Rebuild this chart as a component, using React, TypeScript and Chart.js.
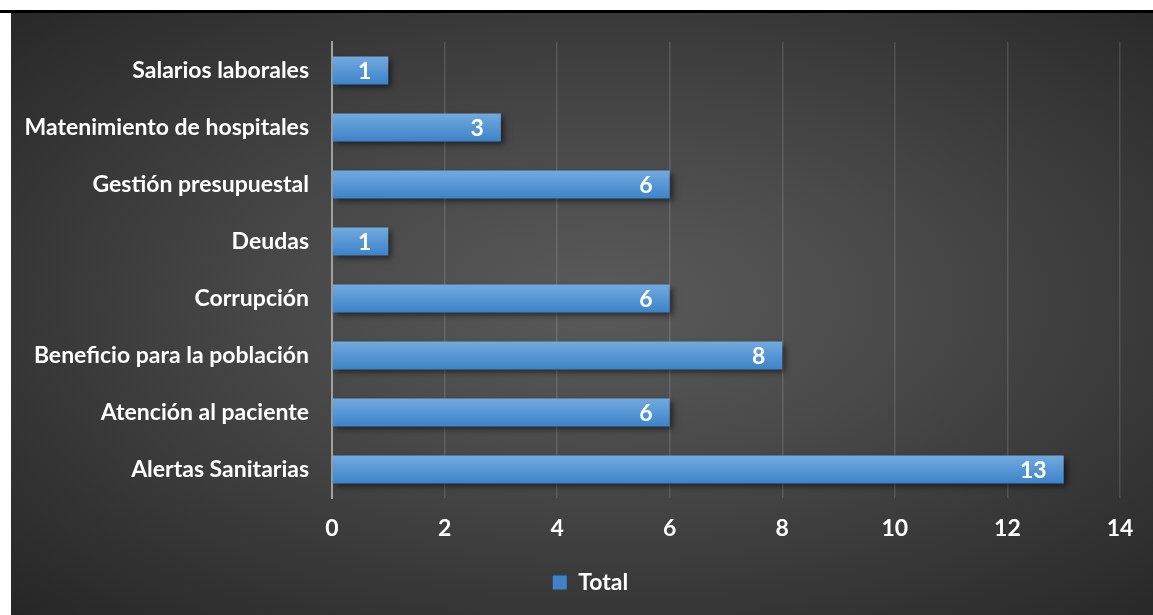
import React, { useEffect, useRef } from "react";
import { Chart, registerables } from "chart.js";

Chart.register(...registerables);

const categories = [
  "Salarios laborales",
  "Matenimiento de hospitales",
  "Gestión presupuestal",
  "Deudas",
  "Corrupción",
  "Beneficio para la población",
  "Atención al paciente",
  "Alertas Sanitarias",
];
const totals = [1, 3, 6, 1, 6, 8, 6, 13];
const seriesName = "Total";
const xMin = 0;
const xMax = 14;
const xStep = 2;

const FONT = "Lato, 'Open Sans', sans-serif";
const FS = 23;

const shadowPlugin = {
  id: "barShadow",
  beforeDatasetDraw(chart: any) {
    const ctx = chart.ctx;
    ctx.save();
    ctx.shadowColor = "rgba(0,0,0,0.55)";
    ctx.shadowBlur = 6;
    ctx.shadowOffsetX = 3;
    ctx.shadowOffsetY = 3;
  },
  afterDatasetDraw(chart: any) {
    chart.ctx.restore();
  },
};

const legendShiftPlugin = {
  id: "legendShift",
  afterLayout(chart: any) {
    const lg = chart.legend;
    if (lg) {
      lg.left += 25;
      lg.right += 25;
    }
  },
};

const labelPlugin = {
  id: "valueLabels",
  afterDatasetsDraw(chart: any) {
    const ctx = chart.ctx;
    const meta = chart.getDatasetMeta(0);
    const data = chart.data.datasets[0].data;
    ctx.save();
    ctx.font = `bold ${FS}px ${FONT}`;
    ctx.fillStyle = "#ffffff";
    ctx.textAlign = "right";
    ctx.textBaseline = "middle";
    meta.data.forEach((el: any, i: number) => {
      ctx.fillText(String(data[i]), el.x - 17, el.y + 1);
    });
    ctx.restore();
  },
};

export default function App() {
  const ref = useRef<HTMLCanvasElement | null>(null);

  useEffect(() => {
    if (!ref.current) return;
    const chart = new Chart(ref.current, {
      type: "bar",
      data: {
        labels: categories,
        datasets: [
          {
            label: seriesName,
            data: totals,
            backgroundColor: (c: any) => {
              const chart = c.chart;
              const y = chart.scales && chart.scales.y;
              if (!y || c.dataIndex === undefined || c.type !== "data") return "#5596d8";
              const center = y.getPixelForValue(c.dataIndex);
              if (!Number.isFinite(center)) return "#5596d8";
              const g = chart.ctx.createLinearGradient(0, center - 14, 0, center + 14);
              g.addColorStop(0, "#72aae0");
              g.addColorStop(1, "#3d83c9");
              return g;
            },
            borderWidth: 0,
            barPercentage: 0.49,
            categoryPercentage: 1,
          },
        ],
      },
      options: {
        indexAxis: "y",
        responsive: true,
        maintainAspectRatio: false,
        animation: false,
        layout: { padding: { left: 0, right: 33, top: 29, bottom: 11 } },
        plugins: {
          legend: {
            position: "bottom",
            labels: {
              color: "#ffffff",
              font: { family: FONT, size: FS, weight: "bold" },
              boxWidth: 14,
              boxHeight: 14,
              padding: 10,
            },
          },
          tooltip: { enabled: false },
        },
        scales: {
          x: {
            min: xMin,
            max: xMax,
            ticks: {
              stepSize: xStep,
              color: "#ffffff",
              font: { family: FONT, size: FS, weight: "bold" },
              padding: 17,
            },
            grid: { color: "rgba(255,255,255,0.13)", lineWidth: 1.5, drawTicks: false },
            border: { display: false },
            afterFit: (s: any) => {
              s.height = 63;
              s.paddingLeft = 0;
              s.paddingRight = 0;
            },
          },
          y: {
            ticks: {
              color: "#ffffff",
              font: { family: FONT, size: FS, weight: "bold" },
              padding: 23,
            },
            grid: { display: false, drawTicks: false },
            border: { display: true, color: "#a0a0a0", width: 2 },
            afterFit: (s: any) => {
              s.width = 321;
              s.paddingTop = 0;
              s.paddingBottom = 0;
            },
          },
        },
      } as any,
      plugins: [shadowPlugin, labelPlugin, legendShiftPlugin],
    });
    return () => chart.destroy();
  }, []);

  return (
    <div
      style={{
        position: "absolute",
        left: 0,
        top: 0,
        width: 1153,
        height: 615,
        background: "#ffffff",
        overflow: "hidden",
      }}
    >
      <div style={{ position: "absolute", left: 0, top: 10, width: 1153, height: 3, background: "#000" }} />
      <div
        style={{
          position: "absolute",
          left: 11,
          top: 13,
          width: 1142,
          height: 602,
          background: "radial-gradient(ellipse at 52% 48%, #5a5a5a 0%, #4a4a4a 35%, #262626 100%)",
        }}
      >
        <canvas ref={ref} />
      </div>
    </div>
  );
}
